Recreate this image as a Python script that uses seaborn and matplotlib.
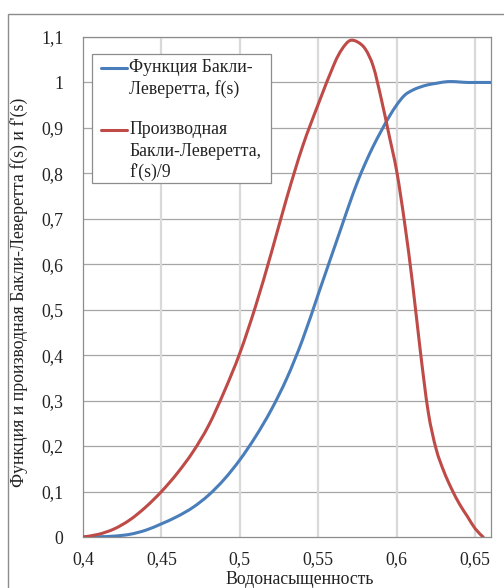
import numpy as np
import pandas as pd
import matplotlib
matplotlib.use("Agg")
import matplotlib.pyplot as plt
from matplotlib.lines import Line2D
from matplotlib.patches import Rectangle, PathPatch
from matplotlib.path import Path
import seaborn as sns

# Water saturation grid and Buckley-Leverett curves
s_f = [0.40, 0.41, 0.42, 0.43, 0.44, 0.45, 0.46, 0.47, 0.48, 0.49,
       0.50, 0.51, 0.52, 0.53, 0.54, 0.55, 0.56, 0.565, 0.57, 0.575,
       0.58, 0.585, 0.59, 0.595, 0.60, 0.605, 0.61, 0.615, 0.62, 0.625,
       0.63, 0.635, 0.64, 0.645, 0.65, 0.655, 0.66]
f_vals = [0.0, 0.0005, 0.002, 0.006, 0.015, 0.029, 0.045, 0.065, 0.092, 0.127,
          0.170, 0.221, 0.280, 0.350, 0.435, 0.535, 0.635, 0.685, 0.735, 0.782,
          0.823, 0.860, 0.893, 0.924, 0.951, 0.972, 0.983, 0.990, 0.995, 0.998,
          1.001, 1.002, 1.001, 1.0, 1.0, 1.0, 1.0]

s_df = [0.40, 0.41, 0.42, 0.43, 0.44, 0.45, 0.46, 0.47, 0.48, 0.49,
        0.50, 0.51, 0.52, 0.53, 0.54, 0.55, 0.56, 0.565, 0.57, 0.575,
        0.58, 0.585, 0.59, 0.595, 0.60, 0.605, 0.61, 0.615, 0.62, 0.625,
        0.63, 0.635, 0.64, 0.645, 0.65, 0.655]
df_vals = [0.0, 0.006, 0.018, 0.038, 0.066, 0.100, 0.140, 0.187, 0.245, 0.320,
           0.405, 0.508, 0.625, 0.748, 0.860, 0.953, 1.040, 1.073, 1.092, 1.089,
           1.073, 1.035, 0.965, 0.885, 0.803, 0.690, 0.558, 0.408, 0.275, 0.194,
           0.144, 0.105, 0.072, 0.045, 0.018, 0.0]

x_ticks = [0.40, 0.45, 0.50, 0.55, 0.60, 0.65]
x_tick_labels = ["0,4", "0,45", "0,5", "0,55", "0,6", "0,65"]
y_ticks = [0.0, 0.1, 0.2, 0.3, 0.4, 0.5, 0.6, 0.7, 0.8, 0.9, 1.0, 1.1]
y_tick_labels = ["0", "0,1", "0,2", "0,3", "0,4", "0,5", "0,6", "0,7",
                 "0,8", "0,9", "1", "1,1"]

label_f = "Функция Бакли-\nЛеверетта, f(s)"
label_df = "Производная\nБакли-Леверетта,\nf'(s)/9"
x_title = "Водонасыщенность"
y_title = "Функция и производная Бакли-Леверетта f(s) и f'(s)"

BLUE = "#4a7ebb"
RED = "#be4b48"
TEXT = "#222222"
FRAME = "#8c8c8c"

sns.set_style("white")
plt.rcParams["font.family"] = ["Liberation Serif", "DejaVu Serif"]
FS = 12.8


def smooth_line(ax, line):
    """Redraw a polyline as a smoothed (Catmull-Rom) Bezier curve."""
    pts = line.get_xydata()
    n = len(pts)
    verts = [pts[0]]
    codes = [Path.MOVETO]
    for i in range(n - 1):
        p0 = pts[i - 1] if i > 0 else pts[i]
        p1, p2 = pts[i], pts[i + 1]
        p3 = pts[i + 2] if i + 2 < n else pts[i + 1]
        verts += [p1 + (p2 - p0) / 6.0, p2 - (p3 - p1) / 6.0, p2]
        codes += [Path.CURVE4] * 3
    ax.add_patch(PathPatch(Path(verts, codes), fill=False,
                           edgecolor=line.get_color(),
                           linewidth=line.get_linewidth(),
                           capstyle="round", joinstyle="round",
                           zorder=line.get_zorder()))
    line.remove()


data_f = pd.DataFrame({"s": s_f, "v": f_vals})
data_df = pd.DataFrame({"s": s_df, "v": df_vals})

W, H = 504, 588
fig = plt.figure(figsize=(W / 100, H / 100), dpi=100)
ax = fig.add_axes([83 / W, 1 - 537 / H, (491 - 83) / W, (537 - 37) / H])

# Outer chart-area frame
fig.patches.append(Rectangle((8 / W, -0.1), 1.2, 1 - 14.5 / H + 0.1,
                             transform=fig.transFigure, fill=False,
                             edgecolor=FRAME, linewidth=1.0))

sns.lineplot(data=data_f, x="s", y="v", ax=ax, color=BLUE, linewidth=2.2,
             sort=False, zorder=4)
sns.lineplot(data=data_df, x="s", y="v", ax=ax, color=RED, linewidth=2.2,
             sort=False, zorder=4)
for ln in list(ax.lines):
    smooth_line(ax, ln)

ax.set_xlim(0.40, 0.66)
ax.set_ylim(0.0, 1.1)
ax.set_xticks(x_ticks)
ax.set_xticklabels(x_tick_labels, fontsize=FS)
ax.set_yticks(y_ticks)
ax.set_yticklabels(y_tick_labels, fontsize=FS)
ax.tick_params(axis="both", direction="out", length=5, width=0.8,
               color=FRAME, labelcolor=TEXT)
ax.tick_params(axis="x", pad=5)
ax.tick_params(axis="y", pad=9)

for v in y_ticks[1:]:
    ax.axhline(v, color="#a6a6a6", linewidth=0.9, zorder=1)
for v in x_ticks[1:]:
    ax.axvline(v, color="#d9d9d9", linewidth=1.6, zorder=1)

for sp in ax.spines.values():
    sp.set_visible(True)
    sp.set_color(FRAME)
    sp.set_linewidth(0.9)

ax.set_xlabel(x_title, fontsize=FS, color=TEXT)
ax.set_ylabel(y_title, fontsize=FS, color=TEXT)
ax.xaxis.set_label_coords((299.5 - 83) / 408, -0.068)
ax.yaxis.set_label_coords(-0.134, (536 - 292) / 499)

# Legend box with handles aligned to the first line of each entry
def fx(px):
    return px / W


def fy(py):
    return 1 - py / H


fig.patches.append(Rectangle((fx(92), fy(183)), fx(271) - fx(92), fy(54) - fy(183),
                             transform=fig.transFigure, facecolor="white",
                             edgecolor=FRAME, linewidth=0.9, zorder=10))
entries = [(label_f, BLUE, 68), (label_df, RED, 130)]
for text, col, y0 in entries:
    fig.lines.append(Line2D([fx(101), fx(127)], [fy(y0), fy(y0)],
                            transform=fig.transFigure, color=col,
                            linewidth=2.2, zorder=11))
    for i, line in enumerate(text.split("\n")):
        fig.text(fx(129), fy(y0 + 21 * i), line, fontsize=FS, color=TEXT,
                 va="center", ha="left", zorder=12)

fig.savefig("out.png", dpi=100)
